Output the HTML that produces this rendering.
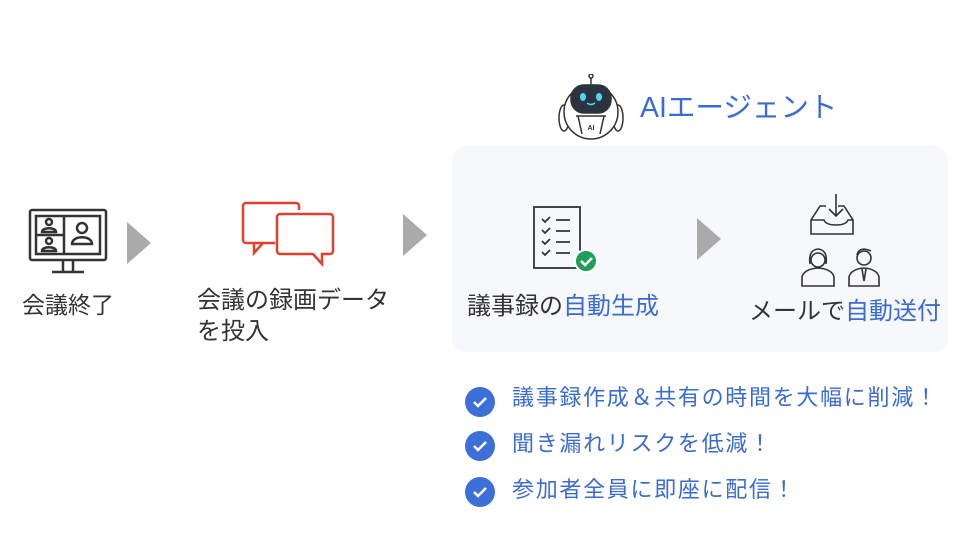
<!DOCTYPE html>
<html><head><meta charset="utf-8"><style>
body{margin:0;width:960px;height:538px;background:#fff;position:relative;overflow:hidden;font-family:"Liberation Sans","Noto Sans CJK JP",sans-serif;color:#333}
.t{position:absolute;white-space:nowrap}
.b{color:#3a6bd4}
.tri{position:absolute;width:0;height:0;border-top:21px solid transparent;border-bottom:21px solid transparent;border-left:24px solid #aaa}
.box{position:absolute;left:452px;top:146px;width:496px;height:206px;background:#f6f8fc;border-radius:14px}
.ck{position:absolute;width:30px;height:30px;border-radius:50%;background:#3d6fd8}
</style></head><body>
<div class="box"></div>
<svg style="position:absolute;left:28px;top:208px" width="82" height="72" viewBox="0 0 82 72" fill="none" stroke="#333" stroke-width="2.5">
<rect x="2" y="2" width="76" height="50" rx="2"/><rect x="8" y="8" width="64" height="38"/><line x1="36" y1="8" x2="36" y2="46"/><line x1="8" y1="27" x2="36" y2="27"/>
<circle cx="21" cy="14" r="3"/><path d="M14 24c0-5 14-5 14 0z"/><circle cx="21" cy="33" r="3"/><path d="M14 43c0-5 14-5 14 0z"/>
<circle cx="54" cy="20" r="5"/><path d="M44 36c0-9 20-9 20 0z"/>
<line x1="35" y1="52" x2="35" y2="64"/><line x1="45" y1="52" x2="45" y2="64"/><line x1="24" y1="64" x2="56" y2="64"/></svg>
<div class="t" style="left:22px;top:286px;font-size:23px">会議終了</div>
<div class="tri" style="left:127px;top:222px"></div>
<svg style="position:absolute;left:240px;top:200px" width="96" height="68" viewBox="0 0 96 68" fill="none" stroke="#e0402f" stroke-width="2.5">
<path d="M6 3h50a3 3 0 0 1 3 3v4M35 43H6a3 3 0 0 1-3-3V6a3 3 0 0 1 3-3M14 43v10l9-10"/>
<path d="M40 14h50a3 3 0 0 1 3 3v34a3 3 0 0 1-3 3H82v10l-9-10H40a3 3 0 0 1-3-3V17a3 3 0 0 1 3-3z"/></svg>
<div class="t" style="left:197px;top:285px;font-size:24px;line-height:31px">会議の録画データ<br>を投入</div>
<div class="tri" style="left:403px;top:214px"></div>
<svg style="position:absolute;left:558px;top:74px" width="66" height="66" viewBox="0 0 66 66" fill="none" stroke="#333" stroke-width="1.5">
<circle cx="33" cy="2" r="2"/><line x1="33" y1="4" x2="33" y2="10"/>
<ellipse cx="6" cy="44" rx="5" ry="13" fill="#fff"/><ellipse cx="60" cy="44" rx="5" ry="13" fill="#fff"/>
<circle cx="33" cy="38" r="27" fill="#fff"/>
<rect x="13" y="11" width="40" height="28" rx="13" fill="#2b3340"/>
<ellipse cx="25" cy="23" rx="3" ry="4" fill="#4fd6f0" stroke="none"/><ellipse cx="41" cy="23" rx="3" ry="4" fill="#4fd6f0" stroke="none"/>
<path d="M29 29q4 3 8 0" stroke="#4fd6f0"/>
<path d="M20 42l4 18M46 42l-4 18M18 42h30"/>
<text x="33" y="56" font-size="7" font-weight="bold" text-anchor="middle" fill="#333" stroke="none" font-family="Liberation Sans">AI</text></svg>
<div class="t b" style="left:640px;top:85px;font-size:28.5px">AIエージェント</div>
<svg style="position:absolute;left:532px;top:205px" width="68" height="70" viewBox="0 0 68 70" fill="none" stroke="#333" stroke-width="1.8">
<rect x="2" y="2" width="46" height="61"/>
<path d="M10 14l3 3 5-5M10 25l3 3 5-5M10 36l3 3 5-5M10 47l3 3 5-5"/>
<path d="M24 15h14M24 26h14M24 37h14M24 48h14"/>
<circle cx="54" cy="56" r="11" fill="#1e9e58" stroke="#fff" stroke-width="2"/><path d="M49 56l4 4 7-7" stroke="#fff" stroke-width="2.5"/></svg>
<div class="t" style="left:467px;top:286px;font-size:24px">議事録の<span class="b">自動生成</span></div>
<div class="tri" style="left:697px;top:218px"></div>
<svg style="position:absolute;left:798px;top:192px" width="104" height="96" viewBox="0 0 104 96" fill="none" stroke="#333" stroke-width="1.6">
<path d="M38 2v22M31 17l7 7 7-7"/><path d="M28 14h-6l-9 14v14h42V28l-9-14h-6"/><path d="M13 28h13q2 5 12 5t12-5h5"/>
<circle cx="20" cy="68" r="7"/><path d="M12 72q-2-14 8-15q10 1 8 15"/><path d="M4 94v-9q2-8 16-9q14 1 16 9v9z"/>
<circle cx="66" cy="66" r="7"/><path d="M59 63q2-9 14-4"/><path d="M51 94v-9q2-8 15-9q13 1 15 9v9z"/><path d="M64 77l2 12 2-12"/></svg>
<div class="t" style="left:749px;top:291px;font-size:24px">メールで<span class="b">自動送付</span></div>
<div class="ck" style="left:465px;top:387px"></div>
<div class="ck" style="left:465px;top:431px"></div>
<div class="ck" style="left:465px;top:477px"></div>
<svg style="position:absolute;left:465px;top:387px" width="30" height="120" fill="none" stroke="#fff" stroke-width="2.5">
<path d="M9 15l4 4 8-8"/><path d="M9 59l4 4 8-8"/><path d="M9 105l4 4 8-8"/></svg>
<div class="t b" style="left:512px;top:380px;font-size:22px;letter-spacing:1.7px">議事録作成＆共有の時間を大幅に削減！</div>
<div class="t b" style="left:512px;top:426px;font-size:22px;letter-spacing:1.7px">聞き漏れリスクを低減！</div>
<div class="t b" style="left:512px;top:472px;font-size:22px;letter-spacing:1.7px">参加者全員に即座に配信！</div>
</body></html>
